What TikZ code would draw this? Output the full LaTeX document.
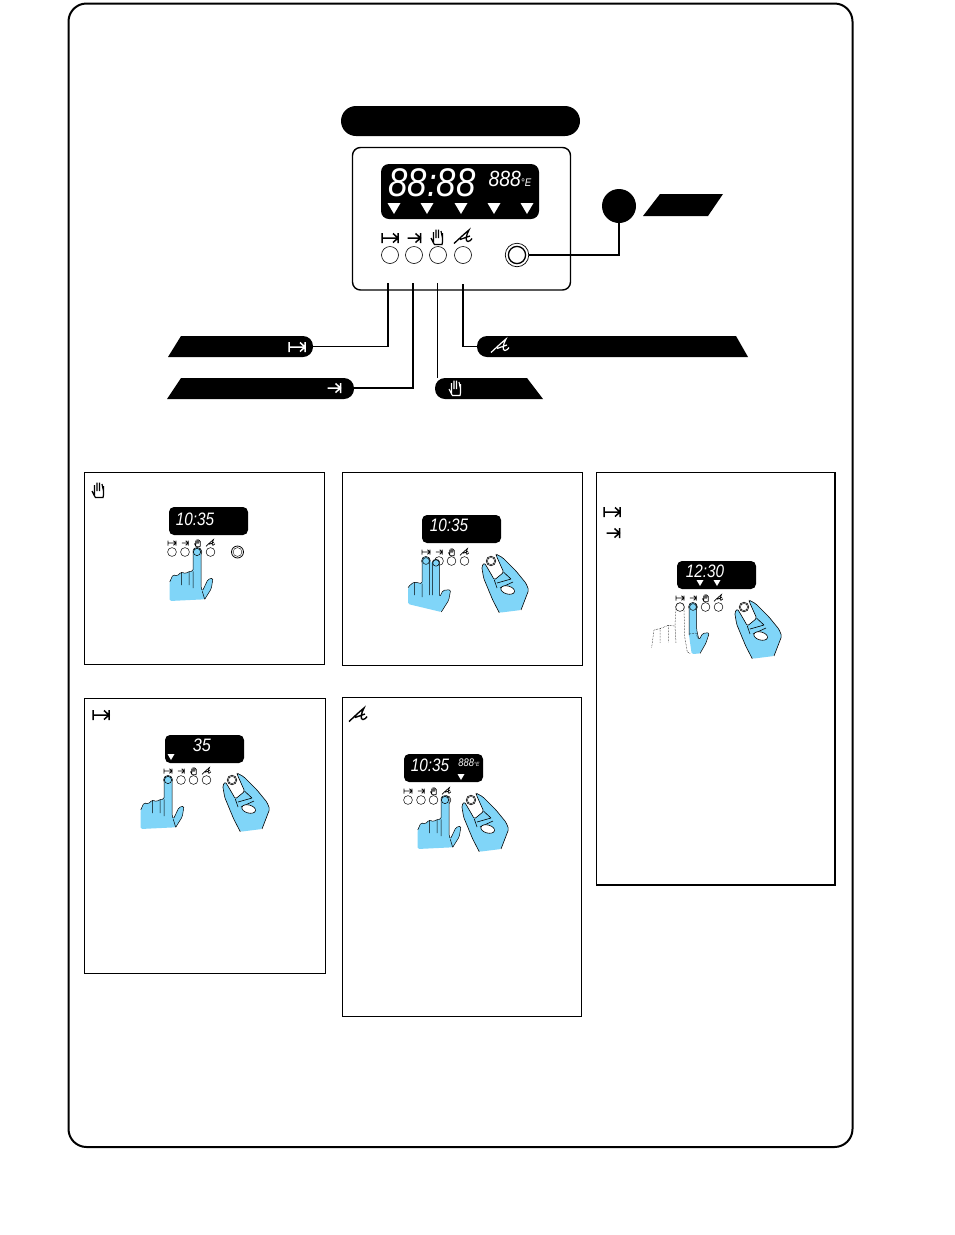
\documentclass[tikz,border=0pt]{standalone}
\usepackage{graphicx}
\usepackage{fontspec}
\newfontfamily\lcdfont[ItalicFont={Liberation Sans Italic}]{Liberation Sans}
\definecolor{handblue}{HTML}{80D5F8}
\newcommand{\lcdtext}[3]{\scalebox{#1}[1]{\fontsize{#2}{#2}\selectfont\lcdfont\itshape #3}}
\newcommand{\pointpath}{(-27.3,49) -- (-27.3,30) -- (-24,22.7) -- (-19.7,24) -- (-15.7,20) -- (-11.3,21.7) -- (-8,19.3) -- (-4,19.3) -- (-4,0) .. controls (-4,-5.3) and (4,-5.3) .. (4,0) -- (4,35) -- (5.3,39.3) -- (11,27.3) -- (16,26) -- (14.3,36.7) -- (7.7,47.3)}
\tikzset{
  frame/.style={draw=black,line width=2pt,rounded corners=18pt},
  infobox/.style={draw=black,line width=.9pt},
  lcd/.style={fill=black,rounded corners=#1},
  lcd/.default=5pt,
  btn/.style={circle,draw=black,line width=.6pt,minimum size=17pt,inner sep=0pt},
  wire/.style={draw=black,line width=1.3pt},
  tag/.style={fill=black},
  lcdtxt/.style={text=white,inner sep=0pt},
  handline/.style={line width=.5pt,rounded corners=1.5pt,line join=round},
  pics/iconend/.style={code={
    \draw (-8,-5) -- (-8,5) (-8,0) -- (8,0) (3,-4.5) -- (8,0) -- (3,4.5) (8,-5) -- (8,5);
  }},
  pics/icondur/.style={code={
    \draw (-6.5,0) -- (6.5,0) (1.5,-4.5) -- (6.5,0) -- (1.5,4.5) (6.5,-5) -- (6.5,5);
  }},
  pics/iconhand/.style={code={
    \draw (-6,1) -- (-3.5,6) -- (-2.5,7.5) -- (5,7.5) -- (5.5,5) -- (5.5,-4)
      (-3.5,6) -- (-3.5,-5) (-1,1) -- (-1,-7.5) (1.5,1) -- (1.5,-7.5) (5.5,1) -- (4,-6);
  }},
  pics/iconfork/.style={code={
    \draw (-9,6.5) .. controls (-4,2) and (1,-3) .. (6,-7) .. controls (3,-2) and (2,5) .. (5,4.5) .. controls (7,4.3) and (8,3) .. (9,1.5)
      (-3,2.5) -- (7,-1);
  }},
  pics/minipanel/.style={code={
    \foreach \bx in {0,13,25.5,38.5} \draw[line width=.5pt] (\bx,0) circle (4.4);
    \pic[line width=.8pt,scale=.5] at (0,-9) {iconend};
    \pic[line width=.8pt,scale=.5] at (13,-9) {icondur};
    \pic[line width=.7pt,scale=.5] at (25.5,-9) {iconhand};
    \pic[line width=.7pt,scale=.5] at (38.5,-9) {iconfork};
  }},
  pics/pointhand/.style={code={
    \fill[handblue,rounded corners=1.5pt] \pointpath -- cycle;
    \draw[handline] (-27.3,30) -- (-24,22.7) -- (-19.7,24) -- (-15.7,20) -- (-11.3,21.7) -- (-8,19.3) -- (-4,19.3) -- (-4,0) .. controls (-4,-5.3) and (4,-5.3) .. (4,0) -- (4,35) -- (5.3,39.3) -- (11,27.3) -- (16,26) -- (14.3,36.7) -- (7.7,47.3)
      (-15.7,20) -- (-15.7,33) (-8,19.3) -- (-8,33) (-4,19.3) -- (-4,36) (5.3,39.3) -- (7.7,47.3);
    \draw[line width=.5pt] (0,0) circle (3.6);
  }},
  pics/twofingers/.style={code={
    \fill[handblue,rounded corners=1.5pt] (-18,43) -- (-18,26.7) -- (-15.3,23.3) -- (-11.3,21) -- (-4,22.7) -- (-4,0) .. controls (-4,-5.3) and (3.7,-5.3) .. (3.7,0) -- (6.3,2.7) .. controls (6.3,-2.5) and (13.7,-2.5) .. (13.7,2.7) -- (13.7,36) -- (17,29.3) -- (24.7,28.7) -- (22.7,39.3) -- (15.3,51) -- cycle;
    \fill[handblue] (3.7,0) -- (6.3,2.7) -- (6.3,30) -- (3.7,30) -- cycle;
    \draw[handline] (-18,26.7) -- (-15.3,23.3) -- (-11.3,21) -- (-4,22.7) -- (-4,0) .. controls (-4,-5.3) and (3.7,-5.3) .. (3.7,0) -- (3.7,34)
      (6.3,34) -- (6.3,2.7) .. controls (6.3,-2.5) and (13.7,-2.5) .. (13.7,2.7) -- (13.7,36) -- (17,29.3) -- (24.7,28.7) -- (22.7,39.3) -- (15.3,51)
      (-11.3,21) -- (-11.3,34) (-4,22.7) -- (-4,36);
    \draw[line width=.5pt] (0,0) circle (3.4) (10,2) circle (3.2);
  }},
  pics/fingerhand/.style={code={
    \fill[handblue,rounded corners=1.5pt] (-1.3,47) -- (-4,28) -- (-4,0) .. controls (-4,-5.3) and (3.7,-5.3) .. (3.7,0) -- (3.7,23) -- (6,33) -- (9.7,26.3) -- (16.3,25.7) -- (13,36) -- (7,46.5) -- cycle;
    \draw[handline] (-4,28) -- (-4,0) .. controls (-4,-5.3) and (3.7,-5.3) .. (3.7,0) -- (3.7,23) -- (6,33) -- (9.7,26.3) -- (16.3,25.7) -- (13,36) -- (7,46.5);
    \draw[line width=.5pt] (0,0) circle (3.4);
    \draw[densely dotted,line width=.5pt] (-4,27) -- (3,26) -- (5,32);
  }},
  pics/ghosthand/.style={code={
    \draw[densely dotted,line width=.5pt] (-28.3,40.3) -- (-26,23) -- (-20,21.7) -- (-11.7,18.3) -- (-5,19) -- (-4,0) .. controls (-4,-5.3) and (4,-5.3) .. (4,0) -- (4.7,30) -- (7.3,45) -- (10.7,46.7)
      (-20,21.7) -- (-20,36) (-11.7,18.3) -- (-11.7,35) (-5,19) -- (-4,36);
  }},
  pics/knobhand/.style={code={
    \fill[handblue,rounded corners=1.5pt] (8.3,51.7) -- (1.7,39) -- (-7.3,17.3) -- (-9.3,5.7) -- (-6.7,1.7) -- (-3.3,7.3) -- (1,14.7) -- (3.3,19) -- (12.7,11.3) -- (5.3,-5.3) -- (5,-7) -- (11.7,-3.3) -- (25,10) -- (35,22.3) -- (37.7,29) -- (30,49) -- cycle;
    \draw[handline,line width=.6pt] (8.3,51.7) -- (1.7,39) -- (-7.3,17.3) -- (-9.3,5.7) -- (-6.7,1.7) -- (-3.3,7.3) -- (1,14.7) -- (3.3,19) -- (12.7,11.3) -- (5.3,-5.3) -- (5,-7) -- (11.7,-3.3) -- (25,10) -- (35,22.3) -- (37.7,29) -- (30,49)
      (3.3,19) -- (6,27) (6,22) -- (20,18) (9,27) -- (22,21) (12.7,11.3) -- (20,18);
    \draw[line width=.6pt,fill=white,rotate around={-15:(16.7,29)}] (16.7,29) ellipse (7 and 4);
    \draw[line width=.6pt,fill=white] (0,0) circle (4.8);
    \draw[line width=.4pt] (0,0) circle (3.6);
  }}
}
\begin{document}
\begin{tikzpicture}[x=1pt,y=-1pt]
  \useasboundingbox (0,0) rectangle (954,1235);
  \fill[white] (0,0) rectangle (954,1235);
  \draw[frame] (68.5,3.5) rectangle (852.5,1147);

  \node[fill=black,rounded corners=15pt,minimum width=239pt,minimum height=30pt,inner sep=0pt] (title) at (460.5,121) {};
  \draw[line width=1.4pt,rounded corners=8pt] (352.5,147.5) rectangle (570.5,290);
  \fill[lcd=8pt] (381,164) rectangle (539,219);
  \node[lcdtxt] (bigtime) at (432,183) {\lcdtext{.87}{40}{88:88}};
  \node[lcdtxt] (bigtemp) at (510,179) {\lcdtext{.88}{22}{888{\fontsize{11}{11}\selectfont °E}}};
  \foreach \tx in {394,427,461,494,527}
    \fill[white] (\tx-6.5,203) -- (\tx+6.5,203) -- (\tx,214) -- cycle;
  \pic[line width=1.5pt] at (390,238) {iconend};
  \pic[line width=1.5pt] at (414,238) {icondur};
  \pic[line width=1.2pt] at (437,237) {iconhand};
  \pic[line width=1.3pt] at (463,237) {iconfork};
  \node[btn] (btnend) at (390,255) {};
  \node[btn] (btndur) at (414,255) {};
  \node[btn] (btnhand) at (438,255) {};
  \node[btn] (btnfork) at (463,255) {};
  \node[btn,minimum size=23.5pt,line width=.7pt] (knob) at (517,255) {};
  \draw[line width=1.3pt] (knob) circle (8.6);
  \node[circle,fill=black,minimum size=34pt,inner sep=0pt] (dot) at (619,206) {};
  \fill[tag] (643,216) -- (660,194) -- (723,194) -- (708,216) -- cycle;
  \draw[wire] (knob) -| (dot);

  % labels under the panel
  \coordinate (legend) at (388,283);
  \coordinate (legdur) at (413,283);
  \coordinate (leghand) at (437.5,283);
  \coordinate (legfork) at (463,284);
  \coordinate (tagend) at (313,346.5);
  \coordinate (tagdur) at (354,388);
  \coordinate (taghand) at (437.5,378);
  \coordinate (tagfork) at (477,346.5);
  \fill[tag] (168,357) -- (181,336) [rounded corners=10pt] -- (313,336) -- (313,357) [sharp corners] -- cycle;
  \fill[tag] (167,399) -- (181,378) [rounded corners=10pt] -- (354,378) -- (354,399) [sharp corners] -- cycle;
  \fill[tag] (543,399) -- (527,378) [rounded corners=10pt] -- (435,378) -- (435,399) [sharp corners] -- cycle;
  \fill[tag] (748,357) -- (736,336) [rounded corners=10pt] -- (477,336) -- (477,357) [sharp corners] -- cycle;
  \draw[wire] (tagend) -| (legend);
  \draw[wire] (tagdur) -| (legdur);
  \draw[wire] (taghand) -- (leghand);
  \draw[wire] (tagfork) -| (legfork);
  \pic[white,line width=1.5pt] at (297,347) {iconend};
  \pic[white,line width=1.5pt] at (334,388) {icondur};
  \pic[white,line width=1.1pt] at (455,388) {iconhand};
  \pic[white,line width=1.2pt] at (500,346) {iconfork};

  \draw[infobox] (84.5,472.5) rectangle (324.5,664.5);
  \draw[infobox] (342,472.5) rectangle (582.5,665);
  \draw[infobox] (596.5,472.5) rectangle (835,885);
  \draw[line width=1.5pt] (835,472.5) -- (835,885) -- (596.5,885);
  \draw[infobox] (84.5,698.5) rectangle (325.5,973);
  \draw[infobox] (342.5,697.5) rectangle (581.5,1016.5);

  \pic[line width=1.2pt] at (98,490) {iconhand};
  \pic[line width=1.5pt] at (101,715) {iconend};
  \pic[line width=1.4pt] at (358,715) {iconfork};
  \pic[line width=1.5pt] at (612,512) {iconend};
  \pic[line width=1.5pt] at (613,533) {icondur};

  % manual
  \fill[lcd] (169,507) rectangle (248,535);
  \node[lcdtxt] (timea) at (195,519) {\lcdtext{.85}{18}{10:35}};
  \pic at (172,552) {minipanel};
  \node[circle,draw,line width=.8pt,minimum size=12pt,inner sep=0pt] (knoba) at (237.5,552) {};
  \draw[line width=.4pt] (knoba) circle (4.4);
  \pic at (197,552) {pointhand};

  % clock
  \fill[lcd] (422,515) rectangle (501,543);
  \node[lcdtxt] (timeb) at (449,525.5) {\lcdtext{.85}{18}{10:35}};
  \pic at (426,561) {minipanel};
  \pic at (491,561) {knobhand};
  \pic at (426,561) {twofingers};

  % cook time and end time
  \fill[lcd] (677,561) rectangle (756,589);
  \node[lcdtxt] (timec) at (705,571) {\lcdtext{.85}{18}{12:30}};
  \foreach \tx in {700,717}
    \fill[white] (\tx-3.5,580) -- (\tx+3.5,580) -- (\tx,586) -- cycle;
  \pic at (680,607) {minipanel};
  \pic at (744,607) {knobhand};
  \pic at (693,607) {fingerhand};
  \pic at (680,607) {ghosthand};

  % cook time
  \fill[lcd] (165,735) rectangle (244,763);
  \node[lcdtxt] (timed) at (202,745.5) {\lcdtext{.9}{18}{35}};
  \fill[white] (167.5,754) -- (174.5,754) -- (171,760) -- cycle;
  \pic at (168,780) {minipanel};
  \pic at (232,780) {knobhand};
  \pic at (168,780) {pointhand};

  % oven
  \fill[lcd] (404,754) rectangle (483,782);
  \node[lcdtxt] (timee) at (430,765) {\lcdtext{.85}{18}{10:35}};
  \node[lcdtxt] (tempe) at (469,763) {\lcdtext{.85}{11}{888{\fontsize{6}{6}\selectfont °E}}};
  \fill[white] (457.5,774) -- (464.5,774) -- (461,780) -- cycle;
  \pic at (408,800) {minipanel};
  \pic at (471,800) {knobhand};
  \pic at (445,800) {pointhand};
\end{tikzpicture}
\end{document}
